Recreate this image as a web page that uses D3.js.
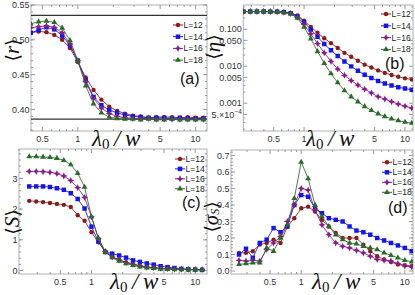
<!DOCTYPE html>
<html>
<head>
<meta charset="utf-8">
<script src="https://cdn.jsdelivr.net/npm/d3@7"></script>
<style>
  body { margin: 0; background: #fff; }
  svg { display: block; font-family: "Liberation Sans", Arial, sans-serif; }
</style>
</head>
<body>
<svg id="chart" width="415" height="295"></svg>
<script>
// lambda0 / w values shared by all four panels
const lambda = [0.251, 0.293, 0.341, 0.398, 0.464, 0.541, 0.631, 0.736, 0.858, 1.0, 1.166, 1.359, 1.585,
                1.848, 2.154, 2.512, 2.929, 3.415, 3.981, 4.642, 5.412, 6.31, 7.356, 8.577, 10.0, 11.66];
const sizes = ['L=12', 'L=14', 'L=16', 'L=18'];

// (a) <r>
const rL12 = [.508,.509,.510,.510,.512,.511,.507,.500,.488,.468,.446,.428,.414,.404,.398,.394,.391,.390,.388,.389,.389,.389,.388,.389,.388,.388];
const rL14 = [.505,.507,.509,.510,.514,.518,.515,.506,.492,.470,.442,.418,.406,.399,.395,.392,.390,.389,.388,.388,.388,.387,.388,.387,.387,.387];
const rL16 = [.512,.514,.516,.517,.519,.520,.518,.510,.494,.470,.440,.416,.402,.394,.390,.388,.387,.387,.387,.386,.386,.386,.386,.386,.386,.386];
const rL18 = [.518,.520,.522,.523,.526,.527,.525,.517,.499,.470,.434,.408,.395,.389,.387,.386,.386,.385,.386,.385,.385,.386,.385,.385,.385,.385];
const rRefLines = [0.535, 0.386];

// (b) <eta>
const etaL12 = [.30,.30,.30,.30,.298,.295,.29,.275,.235,.17,.115,.08,.057,.042,.031,.023,.018,.014,.011,.0092,.0077,.0066,.0058,.0052,.0047,.0044];
const etaL14 = [.30,.30,.30,.30,.298,.295,.288,.27,.225,.155,.098,.062,.04,.027,.019,.0135,.0099,.0075,.0059,.0048,.004,.0034,.003,.0027,.0025,.0023];
const etaL16 = [.30,.30,.30,.30,.298,.294,.286,.265,.21,.135,.075,.041,.023,.0135,.0084,.0057,.0041,.0031,.0024,.0019,.0015,.0013,.0011,.00095,.00083,.00074];
const etaL18 = [.30,.30,.30,.30,.297,.293,.284,.26,.20,.115,.055,.025,.012,.0063,.0036,.0022,.0015,.0011,.00082,.00064,.00052,.00044,.00038,.00034,.00031,.00029];

// (c) <S>
const sL12 = [2.27,2.25,2.23,2.20,2.17,2.14,2.07,1.80,1.62,1.25,0.92,0.62,0.45,0.35,0.27,0.21,0.16,0.12,0.09,0.07,0.06,0.05,0.04,0.035,0.03,0.03];
const sL14 = [2.74,2.74,2.74,2.72,2.68,2.63,2.52,2.33,2.02,1.43,0.95,0.60,0.55,0.49,0.42,0.33,0.28,0.23,0.19,0.14,0.11,0.08,0.055,0.04,0.03,0.02];
const sL16 = [3.23,3.23,3.22,3.20,3.16,3.08,2.93,2.70,2.38,1.75,1.05,0.62,0.44,0.34,0.26,0.20,0.15,0.11,0.09,0.07,0.06,0.05,0.04,0.035,0.03,0.03];
const sL18 = [3.71,3.71,3.70,3.69,3.66,3.59,3.45,3.17,2.72,1.75,1.05,0.60,0.42,0.31,0.23,0.17,0.12,0.09,0.07,0.05,0.04,0.035,0.03,0.025,0.02,0.02];

// (d) <sigma_S>
const sigL12 = [0.11,0.11,0.12,0.16,0.17,0.19,0.17,0.27,0.32,0.38,0.39,0.36,0.31,0.27,0.23,0.20,0.20,0.20,0.16,0.12,0.09,0.07,0.055,0.04,0.035,0.03];
const sigL14 = [0.10,0.135,0.08,0.17,0.19,0.26,0.235,0.27,0.40,0.46,0.45,0.38,0.35,0.32,0.31,0.30,0.27,0.245,0.235,0.22,0.20,0.185,0.17,0.155,0.14,0.12];
const sigL16 = [0.065,0.06,0.065,0.06,0.13,0.17,0.21,0.30,0.40,0.50,0.49,0.37,0.28,0.22,0.17,0.15,0.14,0.125,0.11,0.09,0.07,0.065,0.06,0.045,0.03,0.025];
const sigL18 = [0.04,0.045,0.05,0.05,0.14,0.12,0.20,0.28,0.44,0.66,0.56,0.40,0.33,0.27,0.22,0.19,0.17,0.165,0.15,0.14,0.13,0.11,0.095,0.08,0.065,0.056];

// ticks
const xTicks = [0.5, 1, 5, 10];
const xTickLabels = ['0.5', '1', '5', '10'];
const xMinor = [0.2, 0.3, 0.4, 0.6, 0.7, 0.8, 0.9, 2, 3, 4, 6, 7, 8, 9];
const rTicks = [0.40, 0.45, 0.50, 0.55];
const rTickLabels = ['0.40', '0.45', '0.50', '0.55'];
const etaTicks = [0.1, 0.05, 0.01, 0.005, 0.001, 0.0005];
const etaTickLabels = ['0.100', '0.050', '0.010', '0.005', '0.001', '5.×10|−4'];
const sTicks = [0, 1, 2, 3];
const sTickLabels = ['0', '1', '2', '3'];
const sigTicks = [0, 0.1, 0.2, 0.3, 0.4, 0.5, 0.6, 0.7];
const sigTickLabels = ['0.0', '0.1', '0.2', '0.3', '0.4', '0.5', '0.6', '0.7'];

const colors = ['#8b1a1a', '#1414f0', '#8b1a8b', '#2a6a2a'];

const svg = d3.select('#chart');

// 4 point star for the L=16 markers
const star = {
  draw(ctx, size) {
    const r = Math.sqrt(size) * 0.75, q = r * 0.32;
    ctx.moveTo(0, -r); ctx.lineTo(q, -q); ctx.lineTo(r, 0); ctx.lineTo(q, q);
    ctx.lineTo(0, r); ctx.lineTo(-q, q); ctx.lineTo(-r, 0); ctx.lineTo(-q, -q); ctx.closePath();
  }
};
const markers = [
  d3.symbol(d3.symbolCircle, 15),
  d3.symbol(d3.symbolSquare, 20),
  d3.symbol(star, 22),
  d3.symbol(d3.symbolTriangle, 15),
];

function drawPanel(p, idx) {
  const x = d3.scaleLog().domain(p.xDomain).range([p.left, p.right]);
  const y = (p.logY ? d3.scaleLog() : d3.scaleLinear()).domain(p.yDomain).range([p.bottom, p.top]);
  const g = svg.append('g');

  // clip to the frame
  g.append('clipPath').attr('id', 'clip' + idx)
    .append('rect')
      .attr('x', p.left).attr('y', p.top)
      .attr('width', p.right - p.left).attr('height', p.bottom - p.top);

  // frame
  g.append('rect')
    .attr('x', p.left).attr('y', p.top)
    .attr('width', p.right - p.left).attr('height', p.bottom - p.top)
    .attr('fill', 'none').attr('stroke', '#b0b0b0').attr('stroke-width', 1);

  // x ticks on bottom and top
  const xt = xTicks.map(v => [v, 4]).concat(xMinor.map(v => [v, 2]))
    .filter(d => d[0] >= p.xDomain[0] && d[0] <= p.xDomain[1]);
  xt.forEach(d => {
    const px = x(d[0]);
    g.append('line').attr('x1', px).attr('x2', px).attr('y1', p.bottom).attr('y2', p.bottom - d[1])
      .attr('stroke', '#999');
    g.append('line').attr('x1', px).attr('x2', px).attr('y1', p.top).attr('y2', p.top + d[1])
      .attr('stroke', '#999');
  });
  xTicks.forEach((v, i) => {
    g.append('text').attr('x', x(v)).attr('y', p.bottom + 10.5)
      .attr('text-anchor', 'middle').attr('font-size', 9).attr('fill', '#333')
      .text(xTickLabels[i]);
  });

  // y ticks on left and right
  const yt = p.yTicks.map(v => [v, 4]).concat(p.yMinor.map(v => [v, 2]))
    .filter(d => d[0] >= Math.min(...p.yDomain) && d[0] <= Math.max(...p.yDomain));
  yt.forEach(d => {
    const py = y(d[0]);
    g.append('line').attr('x1', p.left).attr('x2', p.left + d[1]).attr('y1', py).attr('y2', py)
      .attr('stroke', '#999');
    g.append('line').attr('x1', p.right).attr('x2', p.right - d[1]).attr('y1', py).attr('y2', py)
      .attr('stroke', '#999');
  });
  p.yTicks.forEach((v, i) => {
    const parts = p.yLabels[i].split('|');
    const t = g.append('text').attr('x', p.left - 1.5).attr('y', y(v) + 3.2)
      .attr('text-anchor', 'end').attr('font-size', 9).attr('fill', '#333')
      .text(parts[0]);
    if (parts[1]) {
      t.append('tspan').attr('dy', -4).attr('font-size', 6.5).text(parts[1]);
    }
  });

  // reference lines
  (p.refLines || []).forEach(v => {
    g.append('line').attr('x1', p.left).attr('x2', p.right).attr('y1', y(v)).attr('y2', y(v))
      .attr('stroke', '#333').attr('stroke-width', 1.2);
  });

  // series
  const plot = g.append('g').attr('clip-path', 'url(#clip' + idx + ')');
  const line = d3.line()
    .x((d, i) => x(lambda[i]))
    .y(d => y(d));
  p.series.forEach((s, k) => {
    plot.append('path').datum(s)
      .attr('d', line)
      .attr('fill', 'none').attr('stroke', colors[k]).attr('stroke-width', 1)
      .attr('stroke-opacity', 0.85);
    plot.selectAll('.m' + k)
      .data(s)
      .enter().append('path')
        .attr('class', 'm' + k)
        .attr('transform', (d, i) => 'translate(' + x(lambda[i]) + ',' + y(d) + ')')
        .attr('d', markers[k])
        .attr('fill', colors[k]);
  });

  // legend
  sizes.forEach((name, k) => {
    const ly = p.legend[1] + k * p.legend[2];
    g.append('line').attr('x1', p.legend[0]).attr('x2', p.legend[0] + 10).attr('y1', ly).attr('y2', ly)
      .attr('stroke', colors[k]).attr('stroke-width', 1);
    g.append('path').attr('transform', 'translate(' + (p.legend[0] + 5) + ',' + ly + ')')
      .attr('d', markers[k]).attr('fill', colors[k]);
    g.append('text').attr('x', p.legend[0] + 10.5).attr('y', ly + 3)
      .attr('font-size', 8.5).attr('fill', '#222').text(name);
  });

  // panel tag
  g.append('text').attr('x', p.tag[0]).attr('y', p.tag[1])
    .attr('font-size', 16).attr('fill', '#111').text(p.tagText);

  // x title: lambda_0 / w
  const xt2 = g.append('text').attr('x', p.xTitle[0]).attr('y', p.xTitle[1])
    .attr('font-family', '"Liberation Serif", "DejaVu Serif", serif')
    .attr('font-style', 'italic').attr('font-size', 23).attr('fill', '#111');
  xt2.append('tspan').text('λ');
  xt2.append('tspan').attr('dy', 3).attr('font-size', 15).attr('font-style', 'normal').text('0');
  xt2.append('tspan').attr('dy', -3).text('\u2009/\u2009w');

  // y title, rotated
  const yt2 = g.append('text')
    .attr('transform', 'translate(' + p.yTitle[0] + ',' + p.yTitle[1] + ') rotate(-90)')
    .attr('text-anchor', 'middle').attr('dominant-baseline', 'central')
    .attr('font-family', '"DejaVu Serif", serif')
    .attr('font-size', 19).attr('fill', '#111');
  yt2.append('tspan').text('⟨');
  yt2.append('tspan').attr('font-style', 'italic').attr('font-family', '"Liberation Serif", serif')
    .attr('font-size', 21).text(p.yName);
  if (p.ySub) {
    yt2.append('tspan').attr('dy', 4).attr('font-size', 12).attr('font-style', 'italic')
      .attr('font-family', '"Liberation Serif", serif').text(p.ySub);
    yt2.append('tspan').attr('dy', -4).text('⟩');
  } else {
    yt2.append('tspan').text('⟩');
  }
}

const panels = [
  { left: 31, right: 207, top: 5, bottom: 131, xDomain: [0.4, 12.5], yDomain: [0.369, 0.55],
    yTicks: rTicks, yLabels: rTickLabels, yMinor: d3.range(0.37, 0.55, 0.01), refLines: rRefLines,
    series: [rL12, rL14, rL16, rL18], legend: [173, 25, 11.7], tag: [180, 84], tagText: '(a)',
    xTitle: [92, 146], yTitle: [11.5, 50], yName: 'r' },
  { left: 243.3, right: 413, top: 5, bottom: 131, xDomain: [0.25, 12], yDomain: [0.000178, 0.45], logY: true,
    yTicks: etaTicks, yLabels: etaTickLabels, yMinor: [0.0002, 0.0003, 0.0004, 0.002, 0.003, 0.004, 0.02, 0.03, 0.04, 0.2, 0.3, 0.4],
    series: [etaL12, etaL14, etaL16, etaL18], legend: [381, 14, 11.8], tag: [385, 69], tagText: '(b)',
    xTitle: [306, 146], yTitle: [213, 47], yName: 'η' },
  { left: 19, right: 207, top: 149, bottom: 274, xDomain: [0.2, 13], yDomain: [-0.114, 3.96],
    yTicks: sTicks, yLabels: sTickLabels, yMinor: d3.range(0.2, 3.9, 0.2),
    series: [sL12, sL14, sL16, sL18], legend: [175, 159, 9.9], tag: [182, 208], tagText: '(c)',
    xTitle: [110, 288.5], yTitle: [11.5, 222], yName: 'S' },
  { left: 231, right: 413, top: 150, bottom: 274, xDomain: [0.21, 12], yDomain: [-0.018, 0.733],
    yTicks: sigTicks, yLabels: sigTickLabels, yMinor: d3.range(0.02, 0.73, 0.02),
    series: [sigL12, sigL14, sigL16, sigL18], legend: [382, 162.3, 10], tag: [388, 213], tagText: '(d)',
    xTitle: [312, 288.5], yTitle: [211, 217], yName: 'σ', ySub: 'S' },
];

panels.forEach(drawPanel);
</script>
</body>
</html>
